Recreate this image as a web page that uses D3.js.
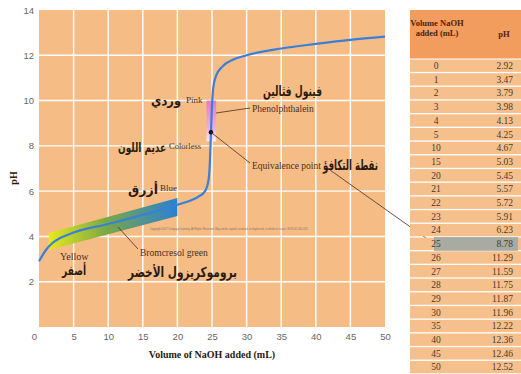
<!DOCTYPE html>
<meta charset="utf-8">
<head>
<style>
body { margin: 0; background: #fff; }
svg { display: block; font-family: "Liberation Serif", serif; }
.tick text { fill: #666; font-size: 9.5px; }
.ar { font-family: "DejaVu Sans", sans-serif; font-weight: bold; fill: #2a1a10; }
.en { fill: #4a3020; }
</style>
<script src="https://d3js.org/d3.v7.min.js"></script>
</head>
<body>
<div id="chart"></div>
<script>

// table values
var tableVol = ["0","1","2","3","4","5","10","15","20","21","22","23","24","25","26","27","28","29","30","35","40","45","50"];
var tablePH = ["2.92","3.47","3.79","3.98","4.13","4.25","4.67","5.03","5.45","5.57","5.72","5.91","6.23","8.78","11.29","11.59","11.75","11.87","11.96","12.22","12.36","12.46","12.52"];
var highlightRow = "25";

// drawn titration curve
var curveVol = [0, 1, 2, 3, 4, 5, 10, 15, 20, 22, 23, 24, 24.5, 24.7, 24.85, 25.0, 25.2, 25.6, 26.5, 28, 30, 35, 40, 45, 50];
var curvePH  = [2.9, 3.4, 3.72, 3.92, 4.05, 4.17, 4.55, 4.95, 5.4, 5.6, 5.75, 6.0, 6.5, 7.3, 8.6, 9.8, 10.6, 11.1, 11.5, 11.8, 12.0, 12.3, 12.5, 12.68, 12.82];

// indicator bands
var bcgVol = [1.4, 20], bcgLow = [3.4, 4.9], bcgHigh = [4.15, 5.7];
var phenVol = [24.2, 25.6], phenPH = [8.2, 10];
var equiv = {vol: 24.85, ph: 8.6};

var xTicks = [0, 5, 10, 15, 20, 25, 30, 35, 40, 45, 50];
var yTicks = [2, 4, 6, 8, 10, 12, 14];

var W = 521, H = 374;
var svg = d3.select("#chart").append("svg").attr("width", W).attr("height", H);

var x = d3.scaleLinear().domain([0, 50]).range([39, 385]);
var y = d3.scaleLinear().domain([0, 14]).range([327, 10]);

var defs = svg.append("defs");
var g1 = defs.append("linearGradient").attr("id", "bcg").attr("x1", "0").attr("x2", "1").attr("y1", "0").attr("y2", "0");
g1.append("stop").attr("offset", "0%").attr("stop-color", "#e6e81c");
g1.append("stop").attr("offset", "45%").attr("stop-color", "#7aa846");
g1.append("stop").attr("offset", "100%").attr("stop-color", "#2a80d4");
var g2 = defs.append("linearGradient").attr("id", "phen").attr("x1", "0").attr("x2", "0").attr("y1", "0").attr("y2", "1");
g2.append("stop").attr("offset", "0%").attr("stop-color", "#e27ad0");
g2.append("stop").attr("offset", "70%").attr("stop-color", "#f0b0dc");
g2.append("stop").attr("offset", "100%").attr("stop-color", "#fbeef4");

// plot background
svg.append("rect")
  .attr("x", x(0)).attr("y", y(14))
  .attr("width", x(50) - x(0)).attr("height", y(0) - y(14))
  .attr("fill", "#f5bc86");

// grid
svg.append("g").selectAll("line")
  .data(xTicks.filter(function(d) { return d > 0 && d < 50; }))
  .enter().append("line")
  .attr("x1", function(d) { return x(d); }).attr("x2", function(d) { return x(d); })
  .attr("y1", y(14)).attr("y2", y(0))
  .attr("stroke", "#fff").attr("stroke-width", 1.4);
svg.append("g").selectAll("line")
  .data(yTicks.filter(function(d) { return d < 14; }))
  .enter().append("line")
  .attr("y1", function(d) { return y(d); }).attr("y2", function(d) { return y(d); })
  .attr("x1", x(0)).attr("x2", x(50))
  .attr("stroke", "#fff").attr("stroke-width", 1.4);

// axes (labels only)
var xAx = svg.append("g").attr("transform", "translate(0," + (y(0) + 4) + ")")
  .call(d3.axisBottom(x).tickValues(xTicks).tickSize(0).tickPadding(2));
xAx.select(".domain").remove();
xAx.selectAll(".tick").filter(function(d) { return d === 0; }).select("text").attr("dx", -5);
var yAx = svg.append("g").attr("transform", "translate(" + (x(0) - 3) + ",0)")
  .call(d3.axisLeft(y).tickValues(yTicks).tickSize(0).tickPadding(2));
yAx.select(".domain").remove();

svg.append("text")
  .attr("x", 212).attr("y", 358).attr("text-anchor", "middle")
  .attr("font-size", 10).attr("font-weight", "bold").attr("fill", "#2a1a10")
  .text("Volume of NaOH added (mL)");
svg.append("text")
  .attr("transform", "translate(17,178) rotate(-90)").attr("text-anchor", "middle")
  .attr("font-size", 10).attr("font-weight", "bold").attr("fill", "#2a1a10")
  .text("pH");

// tiny copyright line
svg.append("text")
  .attr("x", 150).attr("y", 230).attr("font-size", 2.6).attr("fill", "#8a7060")
  .attr("font-family", "Liberation Sans, sans-serif")
  .text("Copyright 2017 Cengage Learning. All Rights Reserved. May not be copied, scanned, or duplicated, in whole or in part. WCN 02-200-203");

// bromcresol green band
var bandPts = [
  [x(bcgVol[0]), y(bcgHigh[0])], [x(bcgVol[1]), y(bcgHigh[1])],
  [x(bcgVol[1]), y(bcgLow[1])], [x(bcgVol[0]), y(bcgLow[0])]
];
svg.append("path")
  .attr("d", "M" + bandPts.join("L") + "Z")
  .attr("fill", "url(#bcg)").attr("stroke", "none");

// phenolphthalein band
svg.append("rect")
  .attr("x", x(phenVol[0])).attr("y", y(phenPH[1]))
  .attr("width", x(phenVol[1]) - x(phenVol[0])).attr("height", y(phenPH[0]) - y(phenPH[1]))
  .attr("fill", "url(#phen)");

// curve
var line = d3.line()
  .x(function(d) { return x(d[0]); })
  .y(function(d) { return y(d[1]); })
  .curve(d3.curveMonotoneX);
svg.append("path")
  .datum(curveVol.map(function(v, i) { return [v, curvePH[i]]; }))
  .attr("d", line)
  .attr("fill", "none").attr("stroke", "#3a7fd8").attr("stroke-width", 2.2);

// equivalence point
svg.append("circle")
  .attr("cx", x(equiv.vol)).attr("cy", y(equiv.ph)).attr("r", 2.2).attr("fill", "#111");

// leader lines
var leaders = [
  [[x(equiv.vol), y(equiv.ph)], [250, 163]],
  [[216, 113], [250, 108]],
  [[118, 227], [138, 249]],
  [[330, 170], [433, 243]]
];
svg.append("g").selectAll("line").data(leaders).enter().append("line")
  .attr("x1", function(d) { return d[0][0]; }).attr("y1", function(d) { return d[0][1]; })
  .attr("x2", function(d) { return d[1][0]; }).attr("y2", function(d) { return d[1][1]; })
  .attr("stroke", "#5a4030").attr("stroke-width", 0.9);

// annotations: text, x, y, font size
var en = [
  ["Pink", 186, 103, 9], ["Colorless", 169, 149, 8.5], ["Blue", 160, 191, 9],
  ["Yellow", 60, 260, 10], ["Bromcresol green", 140, 256, 9.5],
  ["Phenolphthalein", 252, 112, 9.5], ["Equivalence point", 252, 169, 9.5]
];
svg.append("g").selectAll("text").data(en).enter().append("text")
  .attr("class", "en")
  .attr("x", function(d) { return d[1]; }).attr("y", function(d) { return d[2]; })
  .attr("font-size", function(d) { return d[3]; })
  .text(function(d) { return d[0]; });

// arabic: text, right x, baseline, size, width (squeezed horizontally to fit)
var ar = [
  ["وردي", 181, 105, 13, 30], ["عديم اللون", 166, 152, 13, 48], ["أزرق", 158, 194, 13, 30],
  ["أصفر", 86, 275, 13, 24], ["بروموكريزول الأخضر", 237, 277, 14, 109],
  ["فينول فثالين", 322, 96, 14, 59], ["نقطة التكافؤ", 378, 170, 14, 55]
];
svg.append("g").selectAll("text").data(ar).enter().append("text")
  .attr("class", "ar")
  .attr("text-anchor", "end")
  .attr("font-size", function(d) { return d[3]; })
  .text(function(d) { return d[0]; })
  .attr("transform", function(d) {
    var sx = d[4] / this.getComputedTextLength();
    return "translate(" + d[1] + "," + d[2] + ") scale(" + sx + ",1)";
  });

// table
var tx0 = 410, tx1 = 521, rowTop = 59.5, rowH = 13.7;
svg.append("rect").attr("x", tx0).attr("y", 10).attr("width", tx1 - tx0).attr("height", 48.5).attr("fill", "#f29c5e");
svg.append("text").attr("x", 437).attr("y", 26).attr("text-anchor", "middle")
  .attr("font-size", 8.5).attr("font-weight", "bold").attr("fill", "#4a2410").text("Volume NaOH");
svg.append("text").attr("x", 437).attr("y", 36).attr("text-anchor", "middle")
  .attr("font-size", 8.5).attr("font-weight", "bold").attr("fill", "#4a2410").text("added (mL)");
svg.append("text").attr("x", 504).attr("y", 37).attr("text-anchor", "middle")
  .attr("font-size", 8.5).attr("font-weight", "bold").attr("fill", "#4a2410").text("pH");

var rows = svg.append("g").selectAll("g").data(tableVol).enter().append("g")
  .attr("transform", function(d, i) { return "translate(0," + (rowTop + i * rowH) + ")"; });
rows.append("rect").attr("x", tx0).attr("width", tx1 - tx0).attr("height", rowH - 1.3)
  .attr("fill", "#f6c08c");
rows.filter(function(d) { return d === highlightRow; }).append("rect")
  .attr("x", 434).attr("y", -0.5).attr("width", 84).attr("height", rowH)
  .attr("fill", "#a9aaa2");
rows.append("text").attr("x", 436).attr("y", 9.5).attr("text-anchor", "middle")
  .attr("font-size", 9.5).attr("fill", "#4a3a2e").text(function(d) { return d; });
rows.append("text").attr("x", 513).attr("y", 9.5).attr("text-anchor", "end")
  .attr("font-size", 9.5).attr("fill", "#4a3a2e").text(function(d, i) { return tablePH[i]; });

</script>
</body>
</html>
